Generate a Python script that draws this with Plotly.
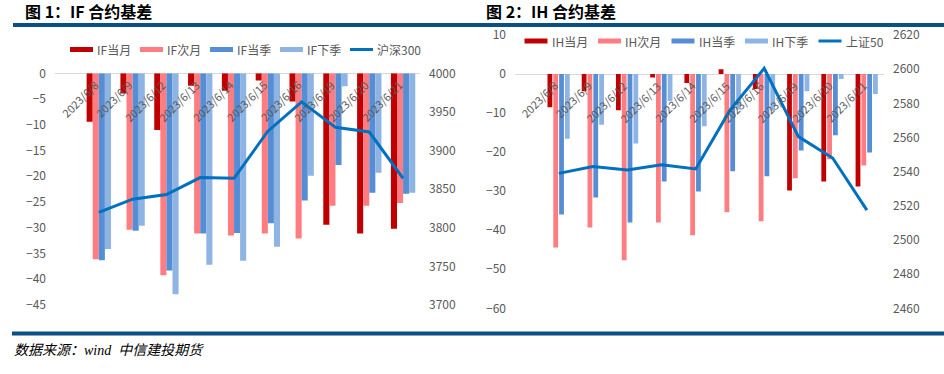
import plotly.graph_objects as go

W, H = 944, 374

def px(x):
    return x / W

def py(y):
    return 1 - y / H

dates = ["2023/6/8", "2023/6/9", "2023/6/12", "2023/6/13", "2023/6/14",
         "2023/6/15", "2023/6/16", "2023/6/19", "2023/6/20", "2023/6/21"]

# IF contract basis
if_m1 = [-9.4, -3.9, -11.0, -2.4, -3.4, -1.4, -5.5, -29.4, -31.1, -30.2]
if_m2 = [-36.1, -30.4, -39.2, -31.1, -31.5, -31.1, -32.1, -25.7, -25.7, -25.2]
if_q1 = [-36.3, -30.6, -38.3, -31.1, -31.0, -29.1, -24.7, -17.8, -23.2, -23.4]
if_q2 = [-34.1, -29.6, -42.9, -37.2, -36.4, -33.7, -19.9, -2.5, -19.3, -23.2]
hs300 = [3820, 3837, 3843, 3865, 3864, 3925, 3963, 3930, 3924, 3864]

# IH contract basis
ih_m1 = [-8.5, -4.4, -9.3, -0.9, -2.3, 1.2, -3.8, -29.8, -27.5, -28.8]
ih_m2 = [-44.4, -39.3, -47.7, -38.0, -41.3, -35.4, -37.7, -26.7, -21.8, -23.4]
ih_q1 = [-36.0, -31.6, -38.0, -27.5, -30.1, -24.9, -26.2, -19.6, -15.7, -20.1]
ih_q2 = [-16.6, -13.0, -17.8, -7.0, -13.4, -9.1, -9.4, -4.4, -1.3, -5.1]
sz50 = [2539, 2543, 2541, 2544, 2541.6, 2576, 2600.5, 2560.5, 2548, 2517.5]

if_names = ["IF当月", "IF次月", "IF当季", "IF下季", "沪深300"]
ih_names = ["IH当月", "IH次月", "IH当季", "IH下季", "上证50"]
bar_colors = ["#C00000", "#FF7C80", "#558ED5", "#8EB4E3"]
line_color = "#0070C0"

FONT = "Noto Sans CJK SC"
GRAY = "#595959"

fig = go.Figure()

# left chart
left_offsets = [-0.36, -0.18, 0.0, 0.18]
for name, vals, col, off in zip(if_names[:4], [if_m1, if_m2, if_q1, if_q2], bar_colors, left_offsets):
    fig.add_trace(go.Bar(x=dates, y=vals, name=name, marker_color=col, marker_line_width=0,
                         width=0.18, offset=off, xaxis="x", yaxis="y"))
fig.add_trace(go.Scatter(x=dates, y=hs300, name=if_names[4], mode="lines",
                         line=dict(color=line_color, width=3), xaxis="x", yaxis="y2"))

# right chart
right_offsets = [-0.33, -0.16, 0.01, 0.18]
for name, vals, col, off in zip(ih_names[:4], [ih_m1, ih_m2, ih_q1, ih_q2], bar_colors, right_offsets):
    fig.add_trace(go.Bar(x=dates, y=vals, name=name, marker_color=col, marker_line_width=0,
                         width=0.14, offset=off, xaxis="x2", yaxis="y3"))
fig.add_trace(go.Scatter(x=dates, y=sz50, name=ih_names[4], mode="lines",
                         line=dict(color=line_color, width=3), xaxis="x2", yaxis="y4"))

tickfont = dict(family=FONT, size=12, color=GRAY)
ax_common = dict(showgrid=False, ticks="", showline=False, tickfont=tickfont, ticklabelstandoff=8)

fig.update_layout(
    width=W, height=H,
    margin=dict(l=0, r=0, t=0, b=0, autoexpand=False),
    paper_bgcolor="white", plot_bgcolor="rgba(0,0,0,0)",
    barmode="overlay",
    showlegend=False,
    font=dict(family=FONT, color=GRAY),
    xaxis=dict(domain=[px(55), px(420)], anchor="y", showticklabels=False, showgrid=False,
               showline=False, ticks="", categoryorder="array", categoryarray=dates),
    yaxis=dict(domain=[py(305), py(73.3)], range=[-45, 0], dtick=5, zeroline=True,
               zerolinecolor="#D9D9D9", zerolinewidth=1, anchor="x", **ax_common),
    yaxis2=dict(overlaying="y", side="right", range=[3700, 4000], dtick=50, anchor="x",
                zeroline=False, **ax_common),
    xaxis2=dict(domain=[px(515), px(884)], anchor="y3", showticklabels=False, showgrid=False,
                showline=False, ticks="", categoryorder="array", categoryarray=dates),
    yaxis3=dict(domain=[py(308.3), py(35)], range=[-60, 10], dtick=10, zeroline=True,
                zerolinecolor="#D9D9D9", zerolinewidth=1, anchor="x2", **ax_common),
    yaxis4=dict(overlaying="y3", side="right", range=[2460, 2620], dtick=20, anchor="x2",
                zeroline=False, **ax_common),
)

# rotated category labels just below the zero line
for d in dates:
    for xr, yr in (("x", "y"), ("x2", "y3")):
        fig.add_annotation(x=d, y=0, xref=xr, yref=yr, text=d, showarrow=False, textangle=-45,
                           xanchor="right", yanchor="top", xshift=5, yshift=-1,
                           font=dict(family=FONT, size=11, color=GRAY))

# custom legends (wide swatches like the original)
def add_legend(names, x0, step, yc):
    colors = bar_colors + [line_color]
    for i, (nm, col) in enumerate(zip(names, colors)):
        sx = x0 + i * step
        if i < 4:
            fig.add_shape(type="rect", xref="paper", yref="paper",
                          x0=px(sx), x1=px(sx + 23), y0=py(yc + 2.5), y1=py(yc - 2.5),
                          fillcolor=col, line_width=0)
        else:
            fig.add_shape(type="line", xref="paper", yref="paper",
                          x0=px(sx), x1=px(sx + 23), y0=py(yc), y1=py(yc),
                          line=dict(color=col, width=3))
        fig.add_annotation(x=px(sx + 25), y=py(yc), xref="paper", yref="paper", text=nm,
                           showarrow=False, xanchor="left", yanchor="middle",
                           font=dict(family=FONT, size=12, color=GRAY))

add_legend(if_names, 70, 70, 49.5)
add_legend(ih_names, 524.5, 73.5, 41)

# titles
fig.add_annotation(x=px(23), y=py(11), xref="paper", yref="paper", text="<b>图 1：IF 合约基差</b>",
                   showarrow=False, xanchor="left", yanchor="middle",
                   font=dict(family=FONT, size=16, color="#000000"))
fig.add_annotation(x=px(484), y=py(11), xref="paper", yref="paper", text="<b>图 2：IH 合约基差</b>",
                   showarrow=False, xanchor="left", yanchor="middle",
                   font=dict(family=FONT, size=16, color="#000000"))

# source
fig.add_annotation(x=px(12), y=py(350), xref="paper", yref="paper",
                   text="<i>数据来源：wind  中信建投期货</i>",
                   showarrow=False, xanchor="left", yanchor="middle",
                   font=dict(family="Liberation Serif, Noto Sans CJK SC", size=14, color="#000000"))

# decorative rules
RULE = "#0B5082"
fig.add_shape(type="line", xref="paper", yref="paper", x0=px(13), x1=1, y0=py(25), y1=py(25),
              line=dict(color=RULE, width=4))
fig.add_shape(type="line", xref="paper", yref="paper", x0=px(12), x1=1, y0=py(333.5), y1=py(333.5),
              line=dict(color=RULE, width=4))

# remove the browser's default 8px page margin so the figure fills the window exactly
fig.write_html("out.html", config={"displayModeBar": False},
               post_script="document.body.style.margin='0';")
